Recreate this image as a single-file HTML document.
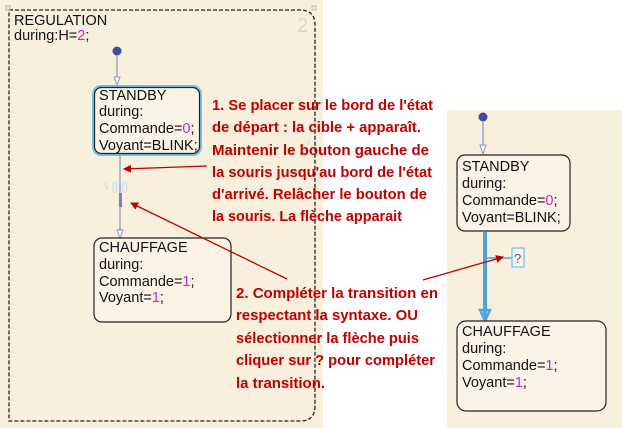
<!DOCTYPE html>
<html><head><meta charset="utf-8"><style>
html,body{margin:0;padding:0;background:#fff;width:630px;height:428px;overflow:hidden}
svg{display:block}
.s{font-family:"Liberation Sans",sans-serif;font-size:14.5px;fill:#111}
.m{fill:#d21fd2}
.r{font-family:"Liberation Sans",sans-serif;font-weight:bold;font-size:15px;fill:#c00000}
</style></head><body>
<svg width="630" height="428" viewBox="0 0 630 428" xmlns="http://www.w3.org/2000/svg">
<defs>
<marker id="ra" markerWidth="8" markerHeight="8" refX="7" refY="4" orient="auto" markerUnits="userSpaceOnUse"><path d="M0,0 L8,4 L0,8 Z" fill="#c00000"/></marker>
</defs>
<rect x="0" y="0" width="323" height="428" fill="#f8efdc"/>
<path d="M9,10 L300,10 Q315,10 315,25 L315,406 Q315,421 300,421 L9,421 Z" fill="none" stroke="#222" stroke-width="1.3" stroke-dasharray="4,2"/>
<rect x="6" y="6" width="4" height="4" fill="none" stroke="#aaa" stroke-width="0.8"/>
<rect x="312" y="6" width="4" height="4" fill="none" stroke="#aaa" stroke-width="0.8"/>
<text x="297" y="32" font-family="Liberation Sans,sans-serif" font-size="20" fill="#ddd6c6">2</text>
<text class="s" x="14" y="25">REGULATION</text>
<text class="s" x="14" y="40">during:H=<tspan class="m">2</tspan>;</text>
<circle cx="117" cy="51" r="4.5" fill="#3d4aa0"/>
<line x1="117" y1="55" x2="117" y2="84" stroke="#8a93c8" stroke-width="1.2"/>
<path d="M114,77 L120,77 L117,85 Z" fill="#fff" stroke="#8a93c8" stroke-width="1"/>
<rect x="92" y="85" width="110" height="71" rx="9" fill="#6cc2f0"/>
<rect x="94.5" y="87.5" width="105" height="66" rx="7" fill="#fbf4e6" stroke="#222" stroke-width="1.2"/>
<text class="s" x="99" y="100">STANDBY</text>
<text class="s" x="99" y="116">during:</text>
<text class="s" x="99" y="133">Commande=<tspan class="m">0</tspan>;</text>
<text class="s" x="99" y="150">Voyant=BLINK;</text>
<line x1="120" y1="156" x2="120" y2="237" stroke="#8a93c8" stroke-width="1.2"/>
<rect x="119" y="193" width="3" height="14" fill="#7b80b8"/>
<text x="103" y="190" font-family="Liberation Sans,sans-serif" font-size="11" fill="#bfe0f2">ϟ [] {}</text>
<path d="M117,230 L123,230 L120,238 Z" fill="#fff" stroke="#8a93c8" stroke-width="1"/>
<rect x="94" y="238" width="137" height="84" rx="8" fill="#fbf4e6" stroke="#222" stroke-width="1.2"/>
<text class="s" x="99" y="252">CHAUFFAGE</text>
<text class="s" x="99" y="269">during:</text>
<text class="s" x="99" y="286">Commande=<tspan class="m">1</tspan>;</text>
<text class="s" x="99" y="302">Voyant=<tspan class="m">1</tspan>;</text>
<rect x="447" y="110" width="175" height="318" fill="#f8efdc"/>
<circle cx="483" cy="117" r="4.5" fill="#3d4aa0"/>
<line x1="483" y1="121" x2="483" y2="153" stroke="#8a93c8" stroke-width="1.2"/>
<path d="M480,145 L486,145 L483,154 Z" fill="#fff" stroke="#8a93c8" stroke-width="1"/>
<rect x="457" y="155" width="113" height="76" rx="8" fill="#fbf4e6" stroke="#222" stroke-width="1.2"/>
<text class="s" x="462" y="171">STANDBY</text>
<text class="s" x="462" y="188">during:</text>
<text class="s" x="462" y="205">Commande=<tspan class="m">0</tspan>;</text>
<text class="s" x="462" y="222">Voyant=BLINK;</text>
<line x1="485" y1="232" x2="485" y2="318" stroke="#4aa6dc" stroke-width="4"/>
<line x1="485" y1="258" x2="512" y2="258" stroke="#4aa6dc" stroke-width="1.5"/>
<path d="M480,310 L490,310 L485,321 Z" fill="none" stroke="#4aa6dc" stroke-width="2.5"/>
<rect x="512" y="248" width="12" height="19" fill="#fbf4e6" stroke="#6cc2f0" stroke-width="1.2"/>
<text x="514" y="263" font-family="Liberation Sans,sans-serif" font-size="13" fill="#555a9c">?</text>
<rect x="457" y="321" width="149" height="90" rx="9" fill="#fbf4e6" stroke="#222" stroke-width="1.2"/>
<text class="s" x="462" y="336">CHAUFFAGE</text>
<text class="s" x="462" y="353">during:</text>
<text class="s" x="462" y="370">Commande=<tspan class="m">1</tspan>;</text>
<text class="s" x="462" y="387">Voyant=<tspan class="m">1</tspan>;</text>
<text class="r" x="212" y="110" textLength="221" lengthAdjust="spacingAndGlyphs">1. Se placer sur le bord de l'état</text>
<text class="r" x="212" y="132" textLength="209" lengthAdjust="spacingAndGlyphs">de départ : la cible + apparaît.</text>
<text class="r" x="212" y="155" textLength="217" lengthAdjust="spacingAndGlyphs">Maintenir le bouton gauche de</text>
<text class="r" x="212" y="177" textLength="220" lengthAdjust="spacingAndGlyphs">la souris jusqu'au bord de l'état</text>
<text class="r" x="212" y="199" textLength="215" lengthAdjust="spacingAndGlyphs">d'arrivé. Relâcher le bouton de</text>
<text class="r" x="212" y="221" textLength="190" lengthAdjust="spacingAndGlyphs">la souris. La flèche apparait</text>
<text class="r" x="236" y="298" textLength="202" lengthAdjust="spacingAndGlyphs">2. Compléter la transition en</text>
<text class="r" x="236" y="320" textLength="182" lengthAdjust="spacingAndGlyphs">respectant la syntaxe. OU</text>
<text class="r" x="236" y="343" textLength="183" lengthAdjust="spacingAndGlyphs">sélectionner la flèche puis</text>
<text class="r" x="236" y="365" textLength="199" lengthAdjust="spacingAndGlyphs">cliquer sur ? pour compléter</text>
<text class="r" x="236" y="388" textLength="89" lengthAdjust="spacingAndGlyphs">la transition.</text>
<line x1="207" y1="166" x2="124" y2="169" stroke="#c00000" stroke-width="1.3" marker-end="url(#ra)"/>
<line x1="287" y1="279" x2="131" y2="203" stroke="#c00000" stroke-width="1.3" marker-end="url(#ra)"/>
<line x1="423" y1="280" x2="503" y2="257" stroke="#c00000" stroke-width="1.3" marker-end="url(#ra)"/>
</svg>
</body></html>
